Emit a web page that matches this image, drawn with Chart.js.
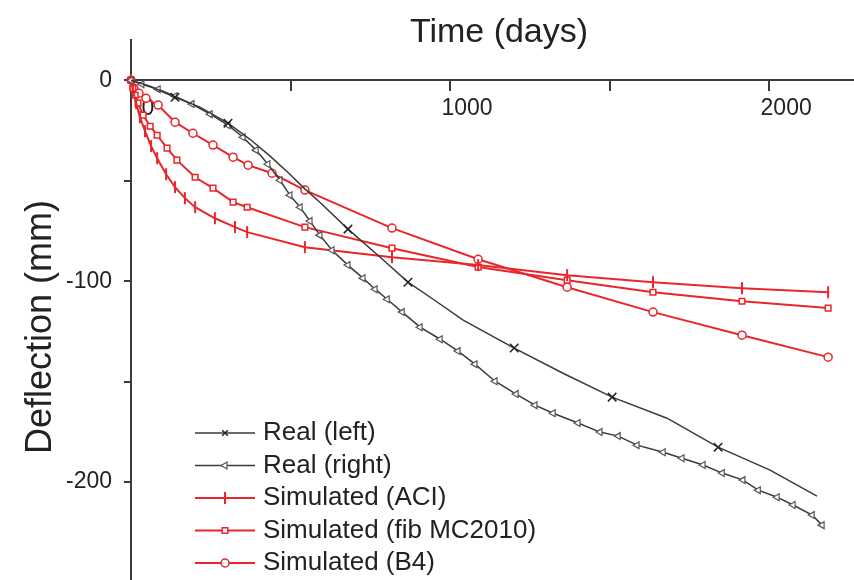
<!DOCTYPE html>
<html>
<head>
<meta charset="utf-8">
<script src="https://cdn.jsdelivr.net/npm/chart.js@4.4.1/dist/chart.umd.min.js"></script>
<style>
  html, body { margin: 0; padding: 0; background: #fff; }
  #wrap { width: 854px; height: 580px; position: relative; }
</style>
</head>
<body>
<div id="wrap"><canvas id="graph"></canvas></div>
<script>
// time (days) / deflection (mm)
const realLeftT = [0, 60, 138, 216, 304, 373, 436, 498, 539, 592, 680, 781, 868, 947, 1041, 1201, 1354, 1508, 1680, 1840, 2003, 2150];
const realLeftD = [0, -3.0, -8.5, -13.4, -21.4, -29.4, -37.8, -46.8, -53.2, -60.7, -74.1, -88.1, -100.5, -109.0, -119.4, -133.3, -145.8, -157.7, -168.2, -182.6, -194.0, -207.0];
const realLeftMarked = [2, 4, 10, 12, 15, 17, 19];

const realRightT = [0, 34, 85, 138, 191, 248, 304, 351, 392, 429, 467, 498, 530, 561, 592, 630, 680, 727, 765, 803, 850, 906, 969, 1025, 1078, 1141, 1207, 1266, 1323, 1401, 1470, 1527, 1586, 1668, 1727, 1793, 1853, 1918, 1966, 2025, 2075, 2135, 2166];
const realRightD = [0, -2.0, -4.5, -8.0, -11.9, -16.9, -22.4, -28.4, -34.8, -41.8, -49.8, -57.2, -63.2, -70.1, -77.1, -84.6, -92.0, -98.5, -104.0, -109.0, -115.4, -122.9, -128.9, -134.8, -141.3, -149.8, -156.2, -161.7, -165.7, -170.6, -175.1, -177.1, -181.6, -185.1, -188.1, -191.5, -195.5, -199.0, -204.0, -207.5, -211.4, -216.4, -221.4];

const aciT = [0, 6, 16, 28, 44, 63, 82, 110, 138, 169, 201, 263, 326, 364, 545, 818, 1088, 1367, 1636, 1915, 2185];
const aciD = [0, -5.0, -11.4, -18.4, -25.4, -32.8, -38.8, -46.8, -53.2, -58.7, -63.2, -68.7, -73.1, -75.6, -83.1, -88.1, -92.0, -97.0, -100.5, -103.5, -105.5];

const fibT = [0, 6, 13, 22, 38, 60, 82, 113, 144, 201, 257, 320, 364, 545, 818, 1088, 1367, 1636, 1915, 2185];
const fibD = [0, -4.0, -7.5, -11.4, -17.4, -22.9, -27.4, -33.8, -39.8, -48.3, -53.7, -60.7, -63.2, -73.1, -83.6, -93.0, -99.5, -105.5, -110.0, -113.4];

const b4T = [0, 9, 25, 47, 85, 138, 194, 257, 320, 367, 442, 545, 818, 1088, 1367, 1636, 1915, 2185];
const b4D = [0, -4.0, -6.5, -9.0, -12.4, -20.9, -26.4, -32.3, -38.3, -42.3, -46.3, -54.7, -73.6, -89.1, -103.0, -115.4, -126.9, -137.8];

// tick positions (labelled ones are multiples of 1000 / 100)
const xTicks = [0, 500, 1000, 1500, 2000];
const yTicks = [-200, -150, -100, -50, 0];

const xTitle = "Time (days)";
const yTitle = "Deflection (mm)";

const FONT = "'Liberation Sans', Arial, sans-serif";
const RED = '#e8262b';
const DARK = '#3a3a3a';

function pts(t, d) { return t.map((x, i) => ({x: x, y: d[i]})); }

const datasets = [
    {label: 'Real (left)', data: pts(realLeftT, realLeftD), borderColor: DARK, borderWidth: 1.5,
     pointStyle: 'crossRot', pointRadius: ctx => realLeftMarked.includes(ctx.index) ? 6 : 0,
     pointBorderColor: '#222', pointBackgroundColor: '#222', pointBorderWidth: 1.5},
    {label: 'Real (right)', data: pts(realRightT, realRightD), borderColor: DARK, borderWidth: 1.5,
     pointStyle: 'triangle', pointRotation: -90, pointRadius: 4,
     pointBorderColor: '#555', pointBackgroundColor: '#fff', pointBorderWidth: 1.2},
    {label: 'Simulated (ACI)', data: pts(aciT, aciD), borderColor: RED, borderWidth: 2,
     pointStyle: 'line', pointRotation: 90, pointRadius: 6,
     pointBorderColor: RED, pointBackgroundColor: RED, pointBorderWidth: 2},
    {label: 'Simulated (fib MC2010)', data: pts(fibT, fibD), borderColor: RED, borderWidth: 2,
     pointStyle: 'rect', pointRadius: 4,
     pointBorderColor: RED, pointBackgroundColor: '#fff', pointBorderWidth: 1.5},
    {label: 'Simulated (B4)', data: pts(b4T, b4D), borderColor: RED, borderWidth: 2,
     pointStyle: 'circle', pointRadius: 4,
     pointBorderColor: RED, pointBackgroundColor: '#fff', pointBorderWidth: 1.5}
];

// axis titles and the legend block sit where the original has them
const extras = {
    id: 'extras',
    afterDraw(chart) {
        const ctx = chart.ctx;
        ctx.save();
        ctx.fillStyle = '#222';
        ctx.font = '34px ' + FONT;
        ctx.textAlign = 'center';
        ctx.textBaseline = 'alphabetic';
        ctx.fillText(xTitle, 499, 42);

        ctx.save();
        ctx.translate(51, 327);
        ctx.rotate(-Math.PI / 2);
        ctx.font = '36px ' + FONT;
        ctx.fillText(yTitle, 0, 0);
        ctx.restore();

        chart.data.datasets.forEach((ds, i) => {
            const y = 433 + i * 32.5;
            ctx.strokeStyle = ds.borderColor;
            ctx.lineWidth = ds.borderWidth;
            ctx.beginPath(); ctx.moveTo(195, y); ctx.lineTo(255, y); ctx.stroke();
            ctx.fillStyle = ds.pointBackgroundColor;
            ctx.strokeStyle = ds.pointBorderColor;
            ctx.lineWidth = ds.pointBorderWidth;
            Chart.helpers.drawPoint(ctx, {pointStyle: ds.pointStyle, rotation: ds.pointRotation || 0,
                radius: ds.pointStyle === 'line' ? 6 : 4, borderWidth: ds.pointBorderWidth}, 225, y);
            ctx.fillStyle = '#222';
            ctx.font = '26px ' + FONT;
            ctx.textAlign = 'left';
            ctx.textBaseline = 'middle';
            ctx.fillText(ds.label, 263, y);
        });
        ctx.restore();
    }
};

new Chart("graph", {
    type: 'line',
    data: {datasets: datasets},
    plugins: [extras],
    options: {
        responsive: true,
        maintainAspectRatio: false,
        animation: false,
        devicePixelRatio: 1,
        layout: {autoPadding: false, padding: {top: 40, left: 0, right: 0, bottom: 0}},
        datasets: {line: {clip: false, tension: 0, fill: false}},
        plugins: {legend: {display: false}, tooltip: {enabled: false}},
        scales: {
            x: {
                type: 'linear',
                position: {y: 0},
                min: 0,
                max: 2266,
                grid: {drawOnChartArea: false, color: DARK, lineWidth: 2, tickLength: 10},
                border: {color: DARK, width: 2},
                ticks: {autoSkip: false, maxRotation: 0,
                        labelOffset: 17, padding: 5, color: '#222', font: {family: FONT, size: 23},
                        callback: v => v % 1000 === 0 ? v : ''},
                afterBuildTicks: s => { s.ticks = xTicks.map(v => ({value: v})); },
                afterFit: s => { s.paddingLeft = 0; s.paddingRight = 0; s.paddingTop = 0; s.paddingBottom = 0; }
            },
            y: {
                type: 'linear',
                position: 'left',
                min: -248.7,
                max: 20,
                grid: {drawOnChartArea: false, color: DARK, lineWidth: 2, tickLength: 7},
                border: {color: DARK, width: 2},
                ticks: {autoSkip: false, padding: 12,
                        color: '#222', font: {family: FONT, size: 23},
                        callback: v => v % 100 === 0 ? v : ''},
                afterBuildTicks: s => { s.ticks = yTicks.map(v => ({value: v})); },
                afterFit: s => { s.width = 131; s.paddingTop = 0; s.paddingBottom = 0; }
            }
        }
    }
});
</script>
</body>
</html>
